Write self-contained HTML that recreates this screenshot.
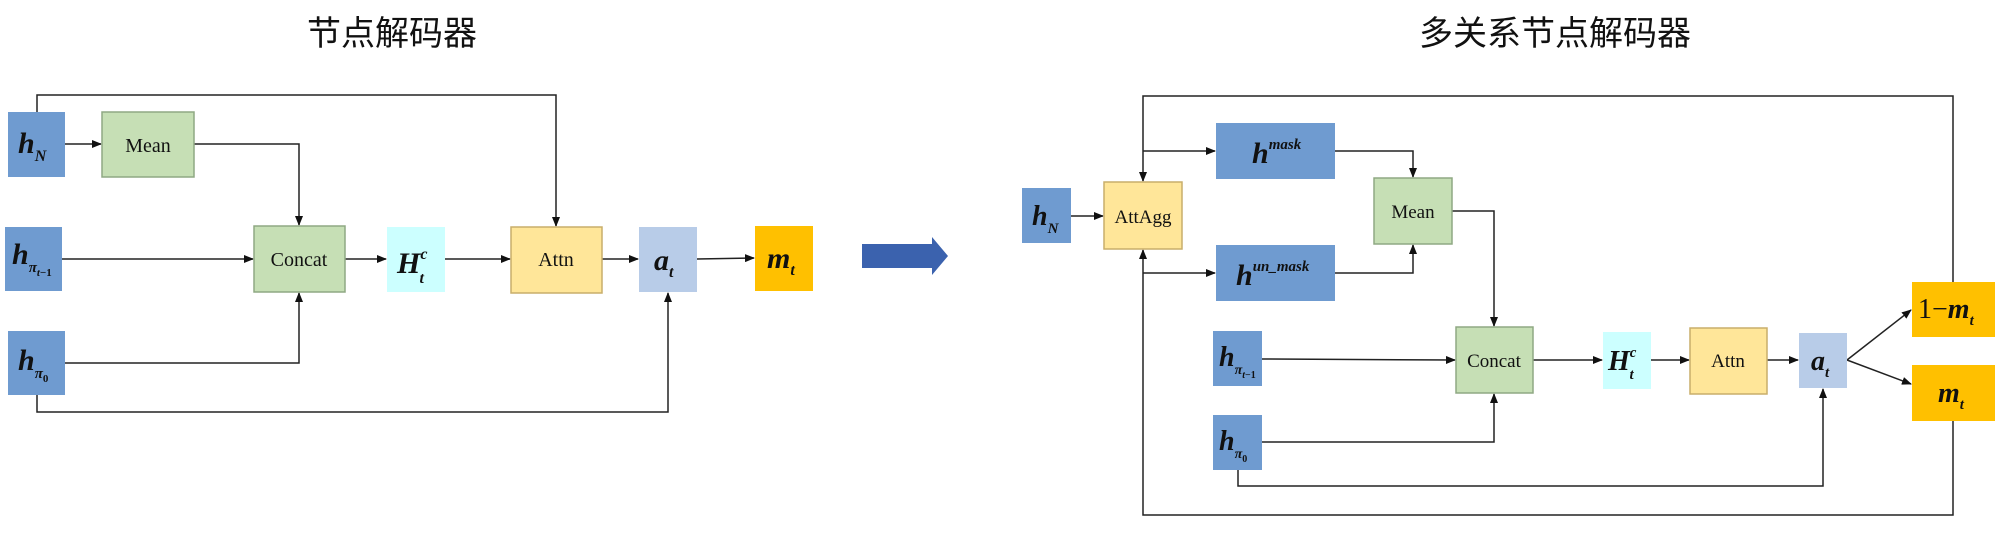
<!DOCTYPE html>
<html><head><meta charset="utf-8"><style>
html,body{margin:0;padding:0;background:#fff;}
svg{display:block;}
.t{font-family:"Liberation Serif",serif;font-style:italic;font-weight:bold;fill:#111;}
.n{font-family:"Liberation Serif",serif;fill:#111;}
.cj{font-family:"Liberation Sans","Noto Sans CJK SC",sans-serif;fill:#111;}
</style></head><body>
<svg width="2000" height="534" viewBox="0 0 2000 534" xmlns="http://www.w3.org/2000/svg">
<defs><marker id="a" markerWidth="10" markerHeight="8" refX="9" refY="4" orient="auto" markerUnits="userSpaceOnUse"><path d="M0,0 L10,4 L0,8 z" fill="#111"/></marker></defs>
<text class="cj" x="392" y="45" font-size="34" text-anchor="middle">节点解码器</text>
<text class="cj" x="1555" y="45" font-size="34" text-anchor="middle">多关系节点解码器</text>

<g stroke="#222" stroke-width="1.5" fill="none">
<!-- left -->
<polyline points="37,112 37,95 556,95 556,226" marker-end="url(#a)"/>
<line x1="65" y1="144" x2="101" y2="144" marker-end="url(#a)"/>
<polyline points="194,144 299,144 299,225" marker-end="url(#a)"/>
<line x1="62" y1="259" x2="253" y2="259" marker-end="url(#a)"/>
<polyline points="65,363 299,363 299,293" marker-end="url(#a)"/>
<line x1="345" y1="259" x2="386" y2="259" marker-end="url(#a)"/>
<line x1="445" y1="259" x2="510" y2="259" marker-end="url(#a)"/>
<line x1="602" y1="259" x2="638" y2="259" marker-end="url(#a)"/>
<line x1="697" y1="259" x2="754" y2="258" marker-end="url(#a)"/>
<polyline points="37,395 37,412 668,412 668,293" marker-end="url(#a)"/>
<!-- right -->
<polyline points="1953,282 1953,96 1143,96 1143,181" marker-end="url(#a)"/>
<polyline points="1953,421 1953,515 1143,515 1143,250" marker-end="url(#a)"/>
<line x1="1143" y1="151" x2="1215" y2="151" marker-end="url(#a)"/>
<line x1="1143" y1="273" x2="1215" y2="273" marker-end="url(#a)"/>
<line x1="1071" y1="216" x2="1103" y2="216" marker-end="url(#a)"/>
<polyline points="1335,151 1413,151 1413,177" marker-end="url(#a)"/>
<polyline points="1335,273 1413,273 1413,245" marker-end="url(#a)"/>
<polyline points="1452,211 1494,211 1494,326" marker-end="url(#a)"/>
<line x1="1262" y1="359" x2="1455" y2="360" marker-end="url(#a)"/>
<polyline points="1262,442 1494,442 1494,394" marker-end="url(#a)"/>
<line x1="1533" y1="360" x2="1602" y2="360" marker-end="url(#a)"/>
<line x1="1651" y1="360" x2="1689" y2="360" marker-end="url(#a)"/>
<line x1="1767" y1="360" x2="1798" y2="360" marker-end="url(#a)"/>
<polyline points="1238,470 1238,486 1823,486 1823,389" marker-end="url(#a)"/>
<line x1="1847" y1="360" x2="1911" y2="310" marker-end="url(#a)"/>
<line x1="1847" y1="360" x2="1911" y2="384" marker-end="url(#a)"/>
</g>

<!-- left boxes -->
<rect x="8" y="112" width="57" height="65" fill="#6F9BD0"/>
<rect x="102" y="112" width="92" height="65" fill="#C6DFB5" stroke="#8FA883" stroke-width="1.5"/>
<rect x="5" y="227" width="57" height="64" fill="#6F9BD0"/>
<rect x="254" y="226" width="91" height="66" fill="#C6DFB5" stroke="#8FA883" stroke-width="1.5"/>
<rect x="387" y="227" width="58" height="65" fill="#CCFFFF"/>
<rect x="511" y="227" width="91" height="66" fill="#FFE699" stroke="#C9AE6A" stroke-width="1.5"/>
<rect x="639" y="227" width="58" height="65" fill="#B8CCE8"/>
<rect x="755" y="226" width="58" height="65" fill="#FFC000"/>
<rect x="8" y="331" width="57" height="64" fill="#6F9BD0"/>
<polygon points="862,244 932,244 932,237 948,256 932,275 932,268 862,268" fill="#3B62AE"/>

<text class="t" x="18" y="153" font-size="30">h<tspan font-size="16" dy="8">N</tspan></text>
<text class="n" x="148" y="152" font-size="20" text-anchor="middle">Mean</text>
<text class="t" x="12" y="264" font-size="30">h<tspan font-size="15" dy="8">π</tspan><tspan font-size="11" dy="4">t</tspan><tspan font-size="11" font-style="normal">−1</tspan></text>
<text class="n" x="299" y="266" font-size="20" text-anchor="middle">Concat</text>
<text class="t" x="397" y="273" font-size="30" font-weight="normal">H<tspan font-size="16" dy="-14">c</tspan><tspan font-size="16" dx="-8" dy="24">t</tspan></text>
<text class="n" x="556" y="266" font-size="20" text-anchor="middle">Attn</text>
<text class="t" x="654" y="270" font-size="30">a<tspan font-size="16" dy="7">t</tspan></text>
<text class="t" x="767" y="268" font-size="30">m<tspan font-size="16" dy="7">t</tspan></text>
<text class="t" x="18" y="370" font-size="30">h<tspan font-size="15" dy="8">π</tspan><tspan font-size="11" dy="4" font-style="normal">0</tspan></text>

<!-- right boxes -->
<rect x="1022" y="188" width="49" height="55" fill="#6F9BD0"/>
<rect x="1104" y="182" width="78" height="67" fill="#FFE699" stroke="#C9AE6A" stroke-width="1.5"/>
<rect x="1216" y="123" width="119" height="56" fill="#6F9BD0"/>
<rect x="1216" y="245" width="119" height="56" fill="#6F9BD0"/>
<rect x="1374" y="178" width="78" height="66" fill="#C6DFB5" stroke="#8FA883" stroke-width="1.5"/>
<rect x="1456" y="327" width="77" height="66" fill="#C6DFB5" stroke="#8FA883" stroke-width="1.5"/>
<rect x="1213" y="331" width="49" height="55" fill="#6F9BD0"/>
<rect x="1213" y="415" width="49" height="55" fill="#6F9BD0"/>
<rect x="1603" y="332" width="48" height="57" fill="#CCFFFF"/>
<rect x="1690" y="328" width="77" height="66" fill="#FFE699" stroke="#C9AE6A" stroke-width="1.5"/>
<rect x="1799" y="333" width="48" height="55" fill="#B8CCE8"/>
<rect x="1912" y="282" width="83" height="55" fill="#FFC000"/>
<rect x="1912" y="365" width="83" height="56" fill="#FFC000"/>

<text class="t" x="1032" y="225" font-size="28">h<tspan font-size="15" dy="8">N</tspan></text>
<text class="n" x="1143" y="223" font-size="19" text-anchor="middle">AttAgg</text>
<text class="t" x="1252" y="163" font-size="30" font-weight="normal">h<tspan font-size="15" dy="-14">mask</tspan></text>
<text class="t" x="1236" y="285" font-size="30" font-weight="normal">h<tspan font-size="15" dy="-14">un_mask</tspan></text>
<text class="n" x="1413" y="218" font-size="19" text-anchor="middle">Mean</text>
<text class="n" x="1494" y="367" font-size="19" text-anchor="middle">Concat</text>
<text class="t" x="1219" y="366" font-size="28">h<tspan font-size="14" dy="8">π</tspan><tspan font-size="10" dy="4">t</tspan><tspan font-size="10" font-style="normal">−1</tspan></text>
<text class="t" x="1219" y="450" font-size="28">h<tspan font-size="14" dy="8">π</tspan><tspan font-size="10" dy="4" font-style="normal">0</tspan></text>
<text class="t" x="1608" y="370" font-size="28" font-weight="normal">H<tspan font-size="15" dy="-13">c</tspan><tspan font-size="15" dx="-7" dy="22">t</tspan></text>
<text class="n" x="1728" y="367" font-size="19" text-anchor="middle">Attn</text>
<text class="t" x="1811" y="370" font-size="28">a<tspan font-size="15" dy="7">t</tspan></text>
<text class="t" x="1918" y="318" font-size="28"><tspan font-style="normal" font-weight="normal">1−</tspan>m<tspan font-size="15" dy="7">t</tspan></text>
<text class="t" x="1938" y="402" font-size="28">m<tspan font-size="15" dy="7">t</tspan></text>
</svg>
</body></html>
